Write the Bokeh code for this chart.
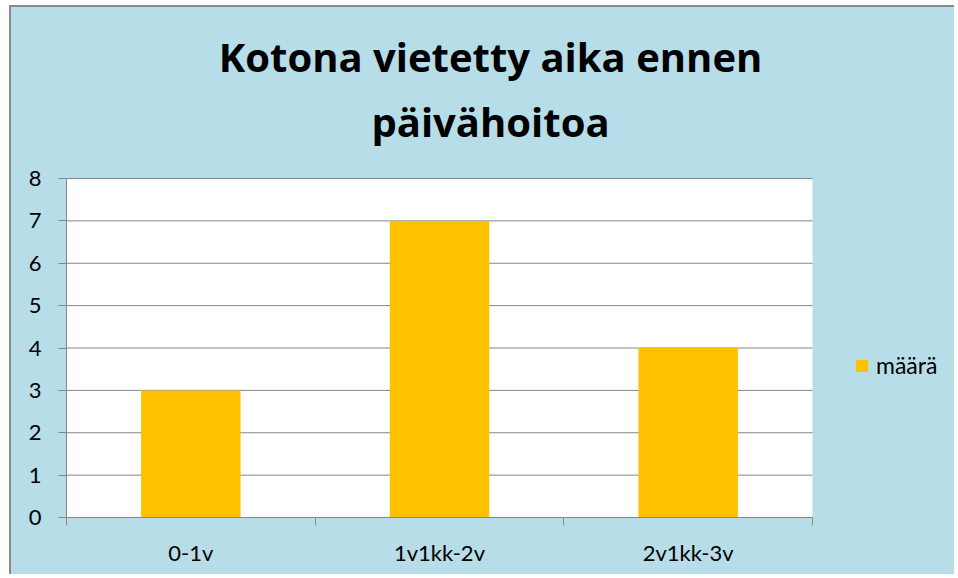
from bokeh.plotting import figure
from bokeh.models import Legend, LegendItem, FixedTicker, ColumnDataSource, Range1d
from bokeh.core.properties import value
from bokeh.embed import file_html
from bokeh.resources import INLINE

categories = ["0-1v", "1v1kk-2v", "2v1kk-3v"]
values = [3, 7, 4]
series_name = "määrä"
title_lines = ["Kotona vietetty aika ennen", "päivähoitoa"]
y_ticks = [0, 1, 2, 3, 4, 5, 6, 7, 8]

FONT = "Lato"
TFONT = "Open Sans"
BG = "#B7DDE8"
BAR = "#FFC000"
GRID = "#868686"

W, H = 945, 569
FL, FR, FT, FB = 55, 801, 171, 510       # plot-area edges on the canvas
n = len(categories)
ymax = y_ticks[-1]
px_x = (FR - FL) / n                      # pixels per category
px_y = (FB - FT) / ymax                   # pixels per unit
x_end = (W - FL) / px_x                   # frame extends right (legend area) and up (title area)
y_end = FB / px_y

p = figure(width=W, height=H, output_backend="svg", toolbar_location=None, title=None,
           x_range=Range1d(0, x_end), y_range=Range1d(0, y_end),
           min_border_left=FL, min_border_top=0, min_border_right=0, min_border_bottom=H - FB)
p.styles = {"margin-left": "9px", "margin-top": "5px", "background-color": BG,
            "border-left": "2px solid #8a8a8a", "border-top": "2px solid #8a8a8a"}
p.background_fill_color = BG
p.border_fill_color = None
p.outline_line_color = None

# white plot area over the category span
p.quad(left=[0], right=[n], bottom=[y_ticks[0]], top=[ymax],
       fill_color="white", line_color=None)
# horizontal gridlines across the category span
p.segment(x0=[0] * len(y_ticks), x1=[n] * len(y_ticks), y0=y_ticks, y1=y_ticks,
          line_color=GRID, line_width=1)

centers = [i + 0.5 for i in range(n)]
src = ColumnDataSource(dict(x=centers, top=values, cat=categories))
r = p.vbar(x="x", top="top", width=0.4, source=src, fill_color=BAR, line_color=None)

# title (two lines), centred over the whole chart
title_cx = (479 - FL) / px_x
title_base = [(FB - 49) / px_y, (FB - 114) / px_y]
p.text(x=[title_cx] * len(title_lines), y=title_base, text=title_lines,
       text_align="center", text_baseline="alphabetic",
       text_font=value(TFONT), text_font_style="bold", text_font_size="40px",
       text_color="black")

# x axis: labels at centers, tick marks at category boundaries
p.xaxis.bounds = (0, n)
p.xaxis.ticker = FixedTicker(ticks=centers, minor_ticks=list(range(n + 1)))
p.xaxis.major_label_overrides = {c: cat for c, cat in zip(centers, categories)}
p.xaxis.major_tick_line_color = None
p.xaxis.minor_tick_line_color = GRID
p.xaxis.minor_tick_in = 0
p.xaxis.minor_tick_out = 8
p.xaxis.axis_line_color = GRID
p.xaxis.major_label_standoff = 13
p.xaxis.major_label_text_font = FONT
p.xaxis.major_label_text_font_size = "22px"
p.xaxis.major_label_text_color = "black"
p.xgrid.grid_line_color = None

p.yaxis.bounds = (0, ymax)
p.yaxis.ticker = FixedTicker(ticks=y_ticks, minor_ticks=[])
p.yaxis.axis_line_color = GRID
p.yaxis.major_tick_line_color = GRID
p.yaxis.major_tick_in = 0
p.yaxis.major_tick_out = 8
p.yaxis.major_label_standoff = 17
p.yaxis.major_label_text_font = FONT
p.yaxis.major_label_text_font_size = "22px"
p.yaxis.major_label_text_color = "black"
p.ygrid.grid_line_color = None

legend = Legend(items=[LegendItem(label=series_name, renderers=[r])],
                location=(788, 138), border_line_color=None, background_fill_alpha=0,
                label_text_font=FONT, label_text_font_size="23px", label_text_color="black",
                glyph_width=15, glyph_height=15, label_standoff=7, padding=0, margin=0)
p.add_layout(legend, "center")

open("out.html", "w").write(file_html(p, INLINE))
